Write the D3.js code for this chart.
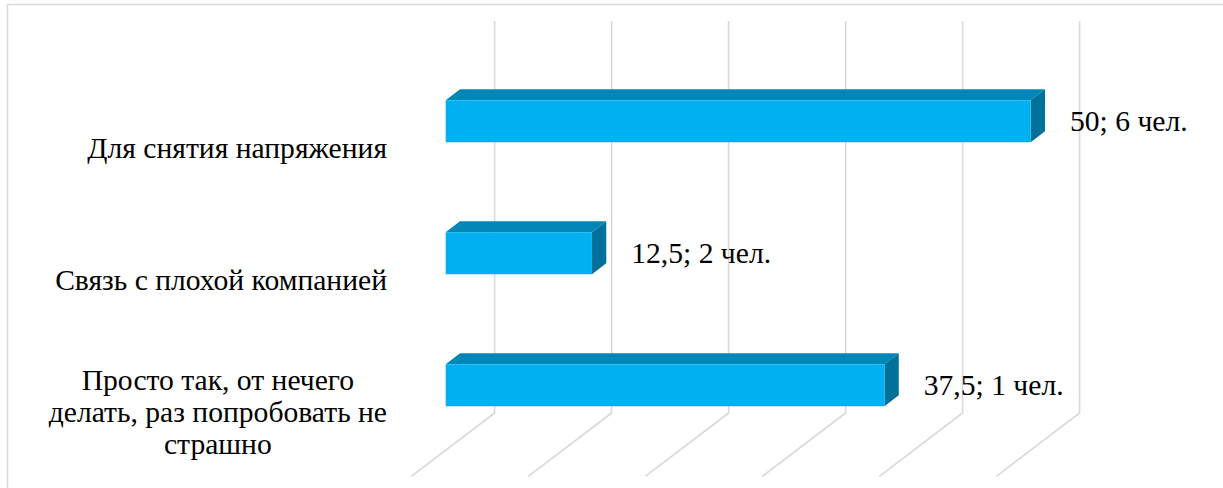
<!DOCTYPE html>
<html><head><meta charset="utf-8">
<script src="https://cdn.jsdelivr.net/npm/d3@7"></script>
<style>html,body{margin:0;padding:0;background:#fff;}svg{display:block;}
text{font-family:"Liberation Serif","Times New Roman","DejaVu Serif",serif;}</style>
</head><body>
<svg id="c" width="1223" height="488"></svg>
<script>
// ---- data ----
const categories = ["Для снятия напряжения", "Связь с плохой компанией", "Просто так, от нечего делать, раз попробовать не страшно"];
const categoryLines = [["Для снятия напряжения"], ["Связь с плохой компанией"], ["Просто так, от нечего", "делать, раз попробовать не", "страшно"]];
const values = [50, 12.5, 37.5];
const people = [6, 2, 1];
const valueTicks = [0, 10, 20, 30, 40, 50];

const svg = d3.select("#c");
const W = 1223, H = 488;
const FS = 29.6;

// oblique 3D projection: depth fraction f -> offset
const DEPTH = {dx: -83.3, dy: 63.3};
const proj = (x, y, f) => [x + DEPTH.dx * f, y + DEPTH.dy * f];

const x = d3.scaleLinear().domain([0, 50]).range([494.6, 1079.6]);
const y = d3.scaleBand().domain(categories).range([18, 414]).paddingInner(0.682).paddingOuter(0.341);
const wallTop = 21, wallBottom = 413;
const fFront = 0.587, fBack = 0.415;

// border
svg.append("rect").attr("x", 7.5).attr("y", 4.5).attr("width", W + 20).attr("height", H + 20)
  .attr("fill", "none").attr("stroke", "#d9d9d9").attr("stroke-width", 1.5);

// gridlines (back wall + floor)
const grid = svg.append("g").attr("stroke", "#d9d9d9").attr("stroke-width", 1.6).attr("fill", "none");
valueTicks.forEach(t => {
  const xb = x(t);
  const p = proj(xb, wallBottom, 1);
  grid.append("path").attr("d", `M${xb},${wallTop}L${xb},${wallBottom}L${p[0]},${p[1]}`);
});

// bars
const bars = svg.append("g");
categories.forEach((c, i) => {
  const v = values[i];
  const y0 = y(c), y1 = y(c) + y.bandwidth();
  const fTL = proj(x(0), y0, fFront), fTR = proj(x(v), y0, fFront), fBR = proj(x(v), y1, fFront), fBL = proj(x(0), y1, fFront);
  const bTL = proj(x(0), y0, fBack), bTR = proj(x(v), y0, fBack), bBR = proj(x(v), y1, fBack);
  bars.append("path").attr("d", `M${fTL}L${fTR}L${bTR}L${bTL}Z`).attr("fill", "#0087B7");
  bars.append("path").attr("d", `M${fTR}L${bTR}L${bBR}L${fBR}Z`).attr("fill", "#00719A");
  bars.append("path").attr("d", `M${fTL}L${fTR}L${fBR}L${fBL}Z`).attr("fill", "#00B0F0");
  const cy = (fTL[1] + fBL[1]) / 2;
  svg.append("text").attr("x", bTR[0] + 25).attr("y", cy)
    .attr("dominant-baseline", "central")
    .attr("font-size", FS).attr("fill", "#000")
    .text(`${String(v).replace(".", ",")}; ${people[i]} чел.`);
});

// category labels (aligned with floor front edge)
const labelRight = 387, lineH = 32;
categories.forEach((c, i) => {
  const cy = proj(0, y(c) + y.bandwidth() / 2, 1)[1] + 1;
  const lines = categoryLines[i];
  const t = svg.append("text").attr("font-size", FS).attr("fill", "#000");
  lines.forEach((ln, k) => {
    t.append("tspan").attr("y", cy + (k - (lines.length - 1) / 2) * lineH).attr("dominant-baseline", "central").text(ln);
  });
  const widths = [];
  t.selectAll("tspan").each(function(){ widths.push(this.getComputedTextLength()); });
  const maxW = d3.max(widths);
  if (lines.length === 1) {
    t.attr("text-anchor", "end").selectAll("tspan").attr("x", labelRight);
  } else {
    t.attr("text-anchor", "middle").selectAll("tspan").attr("x", labelRight - maxW / 2);
  }
});
</script>
</body></html>
